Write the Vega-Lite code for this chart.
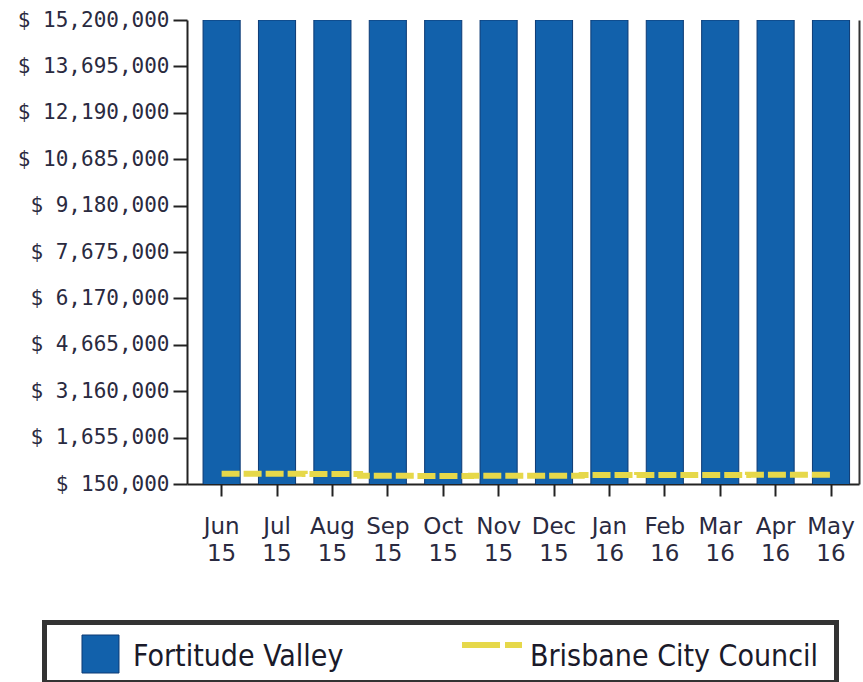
{
  "$schema": "https://vega.github.io/schema/vega-lite/v6.json",
  "width": 672,
  "height": 464,
  "autosize": "none",
  "padding": {"left": 187, "top": 20, "right": 4, "bottom": 198},
  "background": "white",
  "data": {
    "values": [
      {"month": "Jun 15", "fv": 15200000, "bcc": 480000},
      {"month": "Jul 15", "fv": 15200000, "bcc": 480000},
      {"month": "Aug 15", "fv": 15200000, "bcc": 475000},
      {"month": "Sep 15", "fv": 15200000, "bcc": 420000},
      {"month": "Oct 15", "fv": 15200000, "bcc": 410000},
      {"month": "Nov 15", "fv": 15200000, "bcc": 415000},
      {"month": "Dec 15", "fv": 15200000, "bcc": 420000},
      {"month": "Jan 16", "fv": 15200000, "bcc": 440000},
      {"month": "Feb 16", "fv": 15200000, "bcc": 445000},
      {"month": "Mar 16", "fv": 15200000, "bcc": 440000},
      {"month": "Apr 16", "fv": 15200000, "bcc": 450000},
      {"month": "May 16", "fv": 15200000, "bcc": 450000}
    ]
  },
  "encoding": {
    "x": {
      "field": "month", "type": "nominal", "sort": null,
      "scale": {"paddingInner": 0.33, "paddingOuter": 0.23, "align": 0.63},
      "axis": {
        "title": null, "labelAngle": 0, "bandPosition": 0.5,
        "labelExpr": "split(datum.label, ' ')",
        "labelFont": "DejaVu Sans", "labelFontSize": 23, "labelColor": "#2a2a40",
        "labelLineHeight": 27, "labelPadding": 19,
        "tickSize": 12, "tickWidth": 2, "tickColor": "#222",
        "domainColor": "#222", "domainWidth": 2
      }
    }
  },
  "layer": [
    {
      "mark": {"type": "bar", "clip": true, "stroke": "#0c3a74", "strokeWidth": 1},
      "encoding": {
        "y": {
          "field": "fv", "type": "quantitative",
          "scale": {"domain": [150000, 15200000], "nice": false, "zero": false},
          "axis": {
            "title": null, "grid": false,
            "values": [150000, 1655000, 3160000, 4665000, 6170000, 7675000, 9180000, 10685000, 12190000, 13695000, 15200000],
            "labelExpr": "'$ ' + format(datum.value, ',')",
            "labelFont": "DejaVu Sans Mono", "labelFontSize": 21, "labelColor": "#2a2a40",
            "labelPadding": 4, "tickSize": 14, "tickWidth": 2, "tickColor": "#222",
            "domainColor": "#222", "domainWidth": 2
          }
        },
        "color": {
          "datum": "Fortitude Valley",
          "scale": {"domain": ["Fortitude Valley"], "range": ["#1261ab"]},
          "legend": {
            "title": null, "orient": "none", "legendX": -142.5, "legendY": 602.5,
            "padding": 7, "strokeColor": "#333", "fillColor": "white",
            "symbolSize": 2809, "symbolType": "M0.132,-0.811H1.528V0.623H0.132ZM28.26,0",
            "symbolStrokeColor": "#0c3a74", "symbolStrokeWidth": 1, "symbolOpacity": 1,
            "labelFont": "DejaVu Sans Condensed", "labelFontSize": 30,
            "labelColor": "#1a1a2a", "labelOffset": 27.5, "labelLimit": 500
          }
        }
      }
    },
    {
      "mark": {"type": "line", "interpolate": "step", "strokeWidth": 6, "strokeDash": [18, 4]},
      "encoding": {
        "y": {
          "field": "bcc", "type": "quantitative",
          "scale": {"domain": [150000, 15200000], "nice": false, "zero": false},
          "axis": {
            "orient": "right", "title": null, "grid": false, "labels": false, "ticks": false,
            "domainColor": "#333", "domainWidth": 2
          }
        },
        "stroke": {
          "datum": "Brisbane City Council",
          "scale": {"domain": ["Brisbane City Council"], "range": ["#e6d84a"]},
          "legend": {
            "title": null, "orient": "none", "legendX": 265, "legendY": 602.5,
            "padding": 7, "strokeColor": "transparent",
            "symbolSize": 2304, "symbolType": "M-1,-0.48H1.5",
            "symbolStrokeWidth": 6, "symbolDash": [38, 5, 17, 300], "symbolOpacity": 1,
            "labelFont": "DejaVu Sans Condensed", "labelFontSize": 30,
            "labelColor": "#1a1a2a", "labelOffset": 17, "labelLimit": 500
          }
        }
      }
    }
  ],
  "resolve": {"scale": {"y": "independent"}, "axis": {"y": "independent"}},
  "config": {"view": {"stroke": null}, "legend": {"strokeWidth": 5}}
}
